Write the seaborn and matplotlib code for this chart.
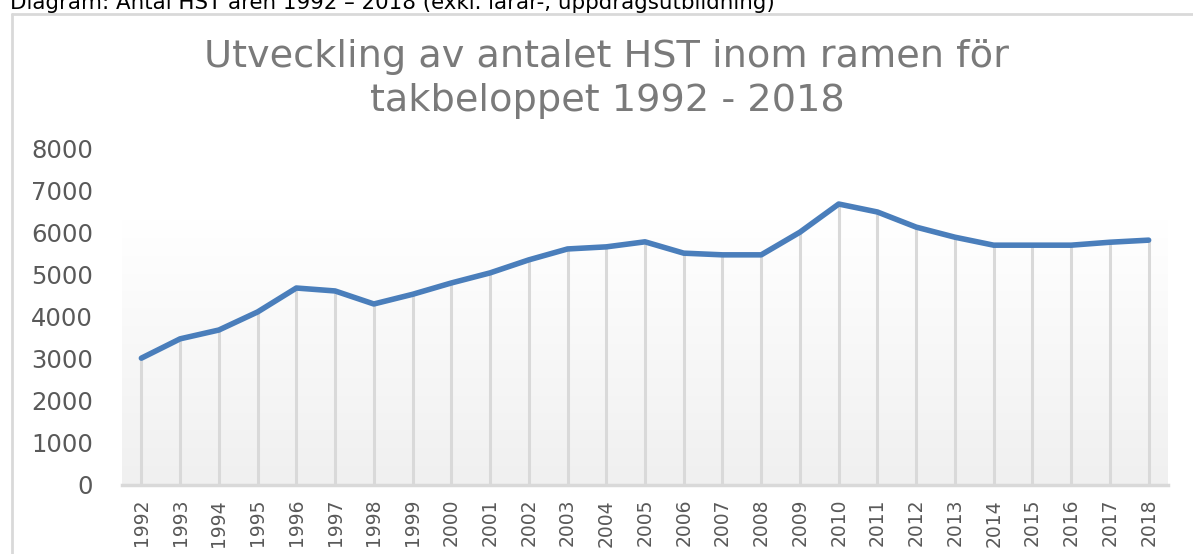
import numpy as np
import pandas as pd
import seaborn as sns
import matplotlib.pyplot as plt
from matplotlib.colors import LinearSegmentedColormap
from matplotlib.lines import Line2D

# Data
years = list(range(1992, 2019))
hst = [3020, 3480, 3690, 4120, 4690, 4620, 4310, 4540, 4810, 5050,
       5360, 5620, 5670, 5790, 5520, 5480, 5480, 6020, 6690, 6500,
       6140, 5900, 5710, 5710, 5710, 5780, 5830]
yticks = [0, 1000, 2000, 3000, 4000, 5000, 6000, 7000, 8000]

caption = 'Diagram: Antal HST åren 1992 – 2018 (exkl. lärar-, uppdragsutbildning)'
title = 'Utveckling av antalet HST inom ramen för\ntakbeloppet 1992 - 2018'

df = pd.DataFrame({'year': years, 'hst': hst})

sns.set_style('white')
plt.rcParams['font.family'] = ['DejaVu Sans']

W, H = 1193, 554
fig = plt.figure(figsize=(W / 100, H / 100), dpi=100)
ax = fig.add_axes([122 / W, 1 - 485 / H, 1046 / W, 336 / H])

# faint gradient in plot area (darker at the bottom)
cmap = LinearSegmentedColormap.from_list('g', ['#f0f0f0', '#ffffff'])
grad = np.linspace(0, 1, 100).reshape(-1, 1)
ax.imshow(grad, cmap=cmap, aspect='auto', origin='lower', extent=[0, 1, 0, 0.79],
          transform=ax.transAxes, zorder=0)

# drop lines
ax.vlines(df['year'], 0, df['hst'], color='#d9d9d9', linewidth=2.2, zorder=1)

sns.lineplot(data=df, x='year', y='hst', color='#4a7ebb', linewidth=4,
             solid_capstyle='round', ax=ax, zorder=3)

ax.set_xlim(years[0] - 0.5, years[-1] + 0.5)
ax.set_ylim(0, 8000)
ax.set_yticks(yticks)
ax.set_yticklabels([str(v) for v in yticks], fontsize=17.5, color='#595959')
ax.set_xticks(years)
ax.set_xticklabels([str(y) for y in years], rotation=90, fontsize=13.5,
                   color='#595959')
ax.tick_params(axis='x', length=0, pad=10)
ax.tick_params(axis='y', length=0, pad=21)
ax.set_xlabel('')
ax.set_ylabel('')
for s in ['top', 'right', 'left']:
    ax.spines[s].set_visible(False)
ax.spines['bottom'].set_color('#d9d9d9')
ax.spines['bottom'].set_linewidth(2.5)
ax.patch.set_alpha(0)

# chart frame (top and left edges)
frame_col = '#d9d9d9'
fig.add_artist(Line2D([12 / W, 1.0], [1 - 13.5 / H] * 2, transform=fig.transFigure,
                      color=frame_col, linewidth=2))
fig.add_artist(Line2D([12 / W] * 2, [0, 1 - 13.5 / H], transform=fig.transFigure,
                      color=frame_col, linewidth=2))

fig.text(607 / W, 1 - 79 / H, title, ha='center', va='center',
         fontsize=27.5, color='#7a7a7a', linespacing=1.3)
fig.text(10 / W, 1 - 9 / H, caption, ha='left', va='baseline', fontsize=15.4, color='black')

plt.savefig('out.png', dpi=100)
